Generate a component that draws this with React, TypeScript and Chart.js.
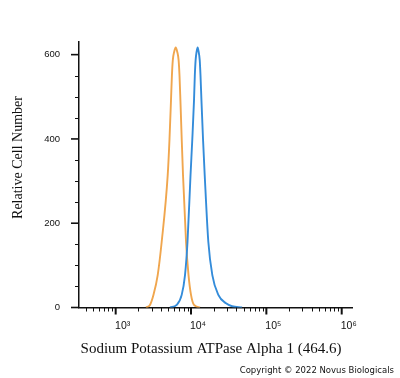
import React, { useEffect, useRef } from "react";
import { Chart, registerables } from "chart.js";

Chart.register(...registerables);

// Intensity values (linear units) and relative cell counts
const blueX = [5261, 6458, 7523, 8322, 8985, 9849, 10406, 10960, 11230, 11510, 11870, 12240, 12620, 13050, 13370, 13750, 14430, 15200, 16970, 19180, 23040, 29160, 35040, 47570];
const blueY = [0, 6, 30, 77, 156, 314, 400, 492, 550, 587, 607, 617, 607, 587, 550, 492, 400, 314, 156, 77, 30, 10, 3, 0];
const orangeX = [2526, 2855, 3177, 3613, 4082, 4905, 5182, 5425, 5577, 5733, 5982, 6264, 6557, 6844, 7036, 7231, 7523, 7832, 8584, 9264, 10000, 10960, 13170];
const orangeY = [0, 6, 30, 77, 156, 314, 400, 492, 550, 587, 607, 617, 607, 587, 550, 492, 400, 314, 156, 77, 30, 6, 0];

const yMajorTicks = [0, 200, 400, 600];
const yMinorTicks = [50, 100, 150, 250, 300, 350, 450, 500, 550];
const xMajorTicks = [1000, 10000, 100000, 1000000];
const xTickLabels = ["10\u00B3", "10\u2074", "10\u2075", "10\u2076"];
const xMinorTicks = [
  400, 500, 600, 700, 800, 900,
  2000, 3000, 4000, 5000, 6000, 7000, 8000, 9000,
  20000, 30000, 40000, 50000, 60000, 70000, 80000, 90000,
  200000, 300000, 400000, 500000, 600000, 700000, 800000, 900000,
];
const xMin = 326;
const xMax = 1370000;
const yMin = 0;
const yMax = 630;

const xTitle = "Sodium Potassium ATPase Alpha 1 (464.6)";
const yTitle = "Relative Cell Number";
const copyright = "Copyright \u00A9 2022 Novus Biologicals";

const BLUE = "rgb(52,140,218)";
const ORANGE = "rgb(240,166,78)";

const decorPlugin = {
  id: "decor",
  afterDraw(chart: any) {
    const ctx = chart.ctx;
    const xs = chart.scales.x;
    const ys = chart.scales.y;
    const area = chart.chartArea;
    ctx.save();
    ctx.strokeStyle = "#111";
    // y ticks
    ctx.lineWidth = 1;
    yMinorTicks.forEach((v) => {
      const y = Math.round(ys.getPixelForValue(v)) + 0.5;
      ctx.beginPath();
      ctx.moveTo(area.left - 4, y);
      ctx.lineTo(area.left, y);
      ctx.stroke();
    });
    ctx.lineWidth = 1.6;
    yMajorTicks.forEach((v) => {
      const y = ys.getPixelForValue(v);
      ctx.beginPath();
      ctx.moveTo(area.left - 8, y);
      ctx.lineTo(area.left, y);
      ctx.stroke();
    });
    // x ticks
    ctx.lineWidth = 1;
    xMinorTicks.forEach((v) => {
      const x = Math.round(xs.getPixelForValue(v)) + 0.5;
      ctx.beginPath();
      ctx.moveTo(x, area.bottom);
      ctx.lineTo(x, area.bottom + 4);
      ctx.stroke();
    });
    ctx.lineWidth = 2;
    xMajorTicks.forEach((v) => {
      const x = xs.getPixelForValue(v);
      ctx.beginPath();
      ctx.moveTo(x, area.bottom);
      ctx.lineTo(x, area.bottom + 7);
      ctx.stroke();
    });
    // titles
    ctx.fillStyle = "#111";
    ctx.font = "15px 'Liberation Serif', 'Times New Roman', serif";
    ctx.textAlign = "center";
    ctx.textBaseline = "alphabetic";
    ctx.fillText(xTitle, 211, 353);
    ctx.save();
    ctx.translate(22, 157.5);
    ctx.rotate(-Math.PI / 2);
    ctx.font = "14px 'Liberation Serif', 'Times New Roman', serif";
    ctx.fillText(yTitle, 0, 0);
    ctx.restore();
    ctx.font = "8.5px 'DejaVu Sans', sans-serif";
    ctx.textAlign = "right";
    ctx.fillText(copyright, 394, 373);
    ctx.restore();
  },
};

export default function App() {
  const ref = useRef<HTMLCanvasElement | null>(null);
  useEffect(() => {
    if (!ref.current) return;
    const chart = new Chart(ref.current, {
      type: "line",
      data: {
        datasets: [
          {
            label: "Sodium Potassium ATPase Alpha 1",
            data: blueX.map((x, i) => ({ x, y: blueY[i] })),
            borderColor: BLUE,
            borderWidth: 1.9,
            pointRadius: 0,
            fill: false,
            cubicInterpolationMode: "monotone",
          },
          {
            label: "Control",
            data: orangeX.map((x, i) => ({ x, y: orangeY[i] })),
            borderColor: ORANGE,
            borderWidth: 1.9,
            pointRadius: 0,
            fill: false,
            cubicInterpolationMode: "monotone",
          },
        ],
      },
      options: {
        responsive: false,
        animation: false,
        layout: { padding: { top: 42, right: 48, left: 0, bottom: 0 } },
        plugins: { legend: { display: false }, tooltip: { enabled: false } },
        scales: {
          x: {
            type: "logarithmic",
            min: xMin,
            max: xMax,
            afterBuildTicks: (scale: any) => {
              scale.ticks = xMajorTicks.map((v) => ({ value: v }));
            },
            afterFit: (scale: any) => {
              scale.height = 378 - 307.5;
            },
            grid: { display: false, drawTicks: false },
            border: { display: true, color: "#111", width: 1.5 },
            ticks: {
              autoSkip: false,
              maxRotation: 0,
              padding: 12,
              labelOffset: 7,
              color: "#111",
              font: { family: "'Liberation Sans Narrow', 'Liberation Sans', Arial, sans-serif", size: 10.5 },
              callback: (value: any) => {
                const i = xMajorTicks.indexOf(Number(value));
                return i >= 0 ? xTickLabels[i] : "";
              },
            },
          },
          y: {
            type: "linear",
            min: yMin,
            max: yMax,
            afterBuildTicks: (scale: any) => {
              scale.ticks = yMajorTicks.map((v) => ({ value: v }));
            },
            afterFit: (scale: any) => {
              scale.width = 79;
            },
            grid: { display: false, drawTicks: false },
            border: { display: true, color: "#111", width: 1.5 },
            ticks: {
              padding: 19,
              color: "#111",
              font: { family: "'Liberation Sans Narrow', 'Liberation Sans', Arial, sans-serif", size: 9.5 },
              callback: (value: any) => String(value),
            },
          },
        },
      },
      plugins: [decorPlugin],
    });
    return () => chart.destroy();
  }, []);
  return (
    <div style={{ position: "fixed", left: 0, top: 0, width: 400, height: 378, background: "#fff" }}>
      <canvas ref={ref} width={400} height={378} style={{ display: "block" }} />
    </div>
  );
}
